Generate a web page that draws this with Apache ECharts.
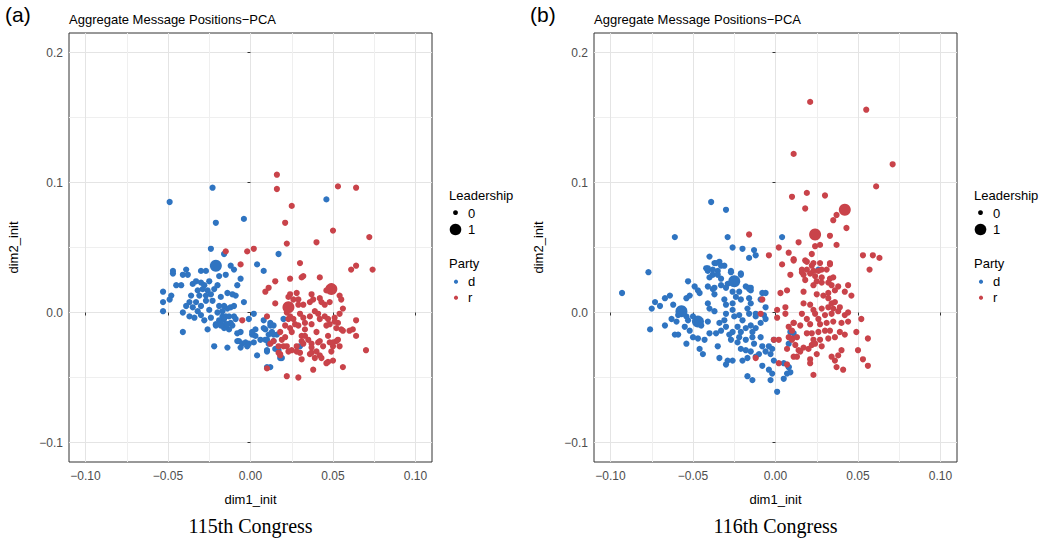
<!DOCTYPE html>
<html><head><meta charset="utf-8">
<script src="https://cdn.jsdelivr.net/npm/echarts@6/dist/echarts.min.js"></script>
<style>html,body{margin:0;padding:0;background:#fff}#c{width:1051px;height:538px}</style>
</head><body><div id="c"></div>
<script>
const xTicks = [-0.1, -0.05, 0, 0.05, 0.1];
const xMinor = [-0.075, -0.025, 0.025, 0.075];
const yTicks = [-0.1, 0, 0.1, 0.2];
const yMinor = [-0.05, 0.05, 0.15];
const panelLabels = ['(a)', '(b)'];
const panelTitle = 'Aggregate Message Positions\u2212PCA';
const captions = ['115th Congress', '116th Congress'];
const xName = 'dim1_init';
const yName = 'dim2_init';
const legendSize = ['0', '1'];
const legendParty = ['d', 'r'];

// Panel (a): 115th Congress
const a_d = [[-0.023,0.096],[-0.049,0.085],[-0.021,0.069],[-0.004,0.072],[-0.024,0.049],[-0.016,0.045],[-0.012,0.036],[-0.010,0.033],[-0.015,0.029],[-0.019,0.028],[-0.006,0.026],[-0.008,0.021],[0.004,0.037],[0.008,0.032],[0.017,0.045],[0.046,0.087],
[-0.047,0.032],[-0.047,0.030],[-0.039,0.033],[-0.041,0.029],[-0.038,0.029],[-0.030,0.032],[-0.027,0.032],[-0.045,0.021],[-0.042,0.021],[-0.035,0.022],[-0.053,0.016],[-0.048,0.013],[-0.049,0.010],[-0.053,0.008],[-0.053,0.001],
[-0.030,0.023],[-0.028,0.021],[-0.026,0.017],[-0.024,0.014],[-0.027,0.013],[-0.029,0.018],[-0.032,0.017],[-0.031,0.013],[-0.033,0.024],[-0.025,0.024],[-0.022,0.018],[-0.027,0.009],[-0.023,0.009],[-0.030,0.005],[-0.025,0.002],[-0.032,0.001],[-0.020,0.000],[-0.017,-0.003],[-0.024,-0.004],[-0.030,-0.002],
[-0.036,0.013],[-0.037,0.008],[-0.039,0.005],[-0.041,0.000],[-0.035,0.004],[-0.033,0.008],
[-0.020,0.021],[-0.014,0.015],[-0.011,0.014],[-0.009,0.013],[-0.018,0.012],[-0.019,0.005],[-0.016,0.005],[-0.014,0.003],[-0.012,0.004],[-0.010,0.005],[-0.004,0.008],[-0.017,0.001],[-0.015,-0.003],[-0.016,-0.005],[-0.019,-0.006],[-0.013,-0.003],[-0.011,-0.010],[-0.013,-0.013],[-0.016,-0.012],
[-0.037,-0.003],[-0.034,-0.004],[-0.028,-0.006],[-0.026,-0.013],[-0.021,-0.010],[-0.018,-0.008],[-0.015,-0.009],[-0.012,-0.008],[-0.010,-0.003],[-0.009,-0.005],[0.002,-0.001],[-0.001,-0.005],[-0.006,-0.015],[-0.007,-0.022],[-0.005,-0.024],[-0.003,-0.023],[-0.002,-0.026],[0.001,-0.017],[0.003,-0.018],[0.006,-0.021],[0.002,-0.023],[0.004,-0.033],[0.010,-0.029],[0.009,-0.013],[0.012,-0.010],[0.013,-0.015],[0.016,-0.017],[0.014,-0.022],[0.017,-0.029],[0.011,-0.024],[-0.022,-0.026],[-0.014,-0.027],[-0.041,-0.015],
[0.008,-0.006],[0.012,-0.008],[0.014,-0.010],[0.003,-0.013],[0.010,-0.021],[0.014,-0.017],[0.012,-0.042],[0.019,-0.035],[0.030,-0.026],[0.020,-0.005],
[-0.008,-0.016],[-0.008,-0.022],[-0.006,-0.027],[-0.001,-0.024],[0.001,-0.015],[0.008,-0.012],[0.009,-0.021],[0.011,-0.017],[0.010,-0.030],[0.015,-0.028],[0.018,-0.035],[0.010,-0.042],[-0.014,-0.009],[-0.018,-0.010],[-0.021,-0.009]];
const a_r = [[0.016,0.106],[0.016,0.095],[0.025,0.082],[0.021,0.069],[0.022,0.053],[-0.015,0.047],[-0.002,0.047],[0.002,0.049],[-0.006,0.037],[0.015,0.024],[0.011,0.019],[0.009,0.016],[0.024,0.026],[0.015,0.007],[-0.005,-0.006],[0.010,-0.003],[0.012,-0.024],[0.018,-0.032],
[0.053,0.097],[0.064,0.096],[0.050,0.063],[0.040,0.054],[0.072,0.058],[0.030,0.038],[0.061,0.033],[0.064,0.036],[0.074,0.033],[0.032,0.028],[0.031,0.027],[0.042,0.027],
[0.028,0.015],[0.024,0.014],[0.037,0.014],[0.050,0.019],[0.046,0.017],
[0.023,0.012],[0.026,0.010],[0.029,0.010],[0.032,0.006],[0.029,0.006],[0.036,0.008],[0.038,0.010],[0.042,0.011],[0.043,0.008],[0.045,0.006],[0.048,0.008],[0.054,0.013],[0.055,0.010],[0.056,0.003],[0.054,-0.001],
[0.022,0.000],[0.024,-0.003],[0.026,-0.005],[0.023,-0.005],[0.021,-0.010],[0.024,-0.012],[0.027,-0.009],[0.030,-0.001],[0.032,-0.004],[0.033,-0.008],[0.036,-0.003],[0.037,-0.009],[0.039,0.001],[0.041,-0.001],[0.042,-0.005],[0.045,-0.003],[0.047,-0.005],[0.046,-0.010],[0.048,-0.009],[0.051,-0.004],[0.053,-0.008],[0.052,-0.012],[0.055,-0.013],[0.060,-0.014],[0.062,-0.013],[0.064,-0.006],[0.064,-0.018],[0.070,-0.029],
[0.018,-0.015],[0.019,-0.021],[0.017,-0.026],[0.014,-0.022],[0.020,-0.026],[0.022,-0.026],[0.025,-0.029],[0.028,-0.026],[0.031,-0.022],[0.035,-0.021],[0.037,-0.024],[0.040,-0.015],[0.042,-0.022],[0.044,-0.026],[0.047,-0.018],[0.048,-0.023],[0.050,-0.026],[0.049,-0.030],[0.052,-0.022],[0.054,-0.026],[0.030,-0.031],[0.031,-0.036],[0.037,-0.031],[0.039,-0.035],[0.042,-0.033],[0.047,-0.038],[0.050,-0.037],[0.056,-0.042],[0.038,-0.044],[0.029,-0.050],[0.022,-0.049],[0.010,-0.043],[0.018,-0.033],
[0.036,-0.032],[0.043,-0.035],[0.046,-0.039],[0.041,-0.023],[0.031,-0.018],[0.033,-0.013],[0.029,-0.010],[0.025,-0.015],[0.021,-0.019],[0.017,-0.031],[0.023,-0.030],[0.028,-0.030],[0.032,-0.024],[0.037,-0.027],[0.040,-0.030],[0.050,-0.023],[0.053,-0.021],[0.056,-0.014],[0.051,-0.007],[0.033,-0.018]];
const a_dLead = [[-0.021,0.036]];
const a_rLead = [[0.023,0.004],[0.049,0.018]];

// Panel (b): 116th Congress
const b_d = [[-0.039,0.085],[-0.030,0.079],[-0.061,0.058],[-0.029,0.058],[-0.026,0.050],[-0.020,0.049],[-0.013,0.048],[-0.012,0.044],[-0.016,0.042],[-0.040,0.043],[-0.037,0.038],[-0.034,0.039],[-0.031,0.036],[-0.042,0.034],[-0.041,0.032],[-0.035,0.032],[-0.038,0.029],[-0.027,0.032],[-0.021,0.030],[-0.033,0.026],[-0.077,0.031],[-0.053,0.024],[-0.049,0.020],[-0.041,0.020],[-0.037,0.019],[-0.030,0.019],[-0.016,0.019],[-0.015,0.019],
[0.004,0.058],[0.026,0.033],
[-0.093,0.015],[-0.076,-0.013],
[-0.075,0.003],[-0.073,0.008],[-0.070,0.005],[-0.067,0.011],[-0.062,0.006],[-0.064,0.013],[-0.054,0.011],[-0.052,0.013],[-0.047,0.017],[-0.046,0.015],[-0.038,0.018],[-0.037,0.014],[-0.041,0.007],[-0.040,0.003],[-0.037,0.001],
[-0.063,-0.005],[-0.060,-0.007],[-0.059,-0.002],[-0.054,-0.003],[-0.053,-0.006],[-0.050,-0.003],[-0.055,-0.011],[-0.052,-0.014],[-0.045,-0.010],[-0.041,-0.007],[-0.034,-0.008],[-0.031,-0.006],[-0.030,-0.001],[-0.026,0.002],[-0.025,-0.003],[-0.022,-0.002],[-0.030,-0.011],[-0.026,-0.015],[-0.033,-0.014],[-0.036,-0.016],[-0.040,-0.016],[-0.047,-0.020],[-0.043,-0.021],[-0.050,-0.019],[-0.054,-0.024],[-0.061,-0.017],[-0.067,-0.010],[-0.059,-0.017],[-0.046,-0.028],[-0.044,-0.032],[-0.035,-0.026],[-0.034,-0.035],[-0.029,-0.037],[-0.030,-0.040],[-0.026,-0.037],[-0.020,-0.037],[-0.017,-0.035],[-0.012,-0.034],[-0.018,-0.029],[-0.021,-0.028],[-0.023,-0.023],[-0.027,-0.021],[-0.028,-0.017],[-0.022,-0.019],[-0.018,-0.021],[-0.014,-0.019],[-0.013,-0.024],[-0.009,-0.019],[-0.008,-0.026],[-0.006,-0.030],[-0.002,-0.028],[-0.003,-0.032],[-0.010,-0.032],[-0.015,-0.030],[-0.008,-0.041],[-0.004,-0.044],[-0.002,-0.047],[-0.003,-0.052],[0.005,-0.051],[0.007,-0.047],[0.008,-0.042],[0.001,-0.061],[-0.014,-0.052],[-0.017,-0.049],
[-0.023,-0.011],[-0.020,-0.006],[-0.016,-0.001],[-0.015,-0.010],[-0.012,-0.003],[-0.009,-0.008],[-0.012,-0.012],[-0.014,-0.015],[-0.018,-0.012],[-0.021,-0.015],[-0.017,0.003],[-0.015,0.007],[-0.012,-0.001],[-0.007,-0.002],[-0.006,0.004],[-0.009,0.010],[-0.016,0.011],[-0.015,0.017],[-0.021,0.010],[-0.024,0.012],[-0.018,0.020],[-0.016,0.018],[-0.008,0.015],[-0.006,0.015],[-0.026,0.007],[-0.030,0.006],[-0.031,0.010],[-0.026,0.016],[-0.022,0.016],[-0.033,0.021],[-0.029,0.022],[-0.035,0.029],[-0.038,0.033],[-0.040,0.027],[-0.041,0.034],[-0.036,0.038],[-0.033,0.036],[-0.027,0.031],[-0.021,0.029],
[-0.006,-0.005],[-0.004,-0.026],[-0.001,-0.021],[-0.001,-0.037],[0.008,-0.024],[0.009,-0.015],[0.011,-0.016],[0.005,-0.039],[0.008,-0.042],[0.009,-0.046]];
const b_r = [[-0.016,0.060],[-0.004,0.044],[0.002,0.050],
[0.021,0.162],[0.055,0.156],[0.011,0.122],[0.071,0.114],[0.061,0.097],[0.010,0.089],[0.019,0.092],[0.030,0.090],[0.018,0.080],[0.037,0.075],[0.035,0.071],[0.043,0.065],[0.033,0.059],[0.014,0.054],[0.024,0.051],[0.027,0.052],[0.037,0.052],[0.008,0.046],[0.022,0.045],[0.011,0.041],[0.004,0.037],[0.018,0.040],[0.027,0.038],[0.033,0.038],[0.053,0.044],[0.059,0.044],[0.063,0.042],[0.057,0.033],[0.009,0.029],[0.016,0.033],[0.019,0.033],[0.022,0.036],[0.023,0.032],[0.026,0.032],[0.021,0.030],[0.024,0.028],[0.028,0.027],[0.031,0.033],[0.033,0.026],[0.035,0.027],[0.018,0.025],[0.025,0.024],[0.032,0.023],[0.038,0.020],[0.044,0.021],[0.023,0.021],
[0.003,0.015],[0.007,0.017],[-0.008,0.010],[-0.009,-0.001],[0.001,0.002],[0.001,-0.004],[0.006,0.004],[0.006,-0.001],[0.008,-0.011],[0.011,-0.008],[0.010,-0.014],[0.010,-0.020],[0.012,-0.025],[0.007,-0.028],[0.014,-0.029],[-0.001,-0.021],[0.002,-0.021],[-0.012,-0.035],[0.002,-0.039],[0.007,-0.040],
[0.011,0.040],[0.019,0.039],[0.023,0.038],[0.033,0.037],[0.028,0.033],[0.016,0.031],[0.017,0.029],
[0.028,0.023],[0.034,0.021],[0.042,0.016],[0.046,0.013],[0.036,0.017],[0.032,0.015],[0.029,0.013],[0.025,0.014],[0.017,0.016],
[0.017,0.007],[0.021,0.006],[0.032,0.011],[0.034,0.007],[0.036,0.008],[0.039,0.004],[0.035,0.003],[0.032,0.004],[0.028,0.003],[0.024,-0.001],[0.023,0.002],[0.016,-0.001],[0.011,-0.008],[0.015,-0.010],[0.019,-0.005],[0.026,-0.005],[0.030,-0.002],[0.034,-0.001],[0.038,0.001],[0.042,-0.002],[0.044,0.000],[0.040,-0.008],[0.044,-0.007],[0.035,-0.007],[0.031,-0.008],[0.027,-0.009],[0.021,-0.009],[0.019,-0.016],[0.022,-0.016],[0.026,-0.015],[0.030,-0.014],[0.033,-0.014],[0.036,-0.019],[0.039,-0.015],[0.042,-0.017],[0.032,-0.020],[0.027,-0.021],[0.023,-0.021],[0.022,-0.025],[0.020,-0.028],[0.017,-0.027],[0.015,-0.030],[0.013,-0.034],[0.011,-0.034],[0.008,-0.019],[0.010,-0.021],[0.013,-0.019],[0.024,-0.024],[0.028,-0.026],[0.025,-0.032],[0.021,-0.036],[0.021,-0.039],[0.023,-0.048],[0.034,-0.034],[0.036,-0.037],[0.038,-0.033],[0.040,-0.029],[0.037,-0.042],[0.041,-0.044],[0.049,-0.015],[0.052,-0.005],[0.056,-0.020],[0.050,-0.029],[0.053,-0.036],[0.056,-0.041]];
const b_dLead = [[-0.025,0.024],[-0.057,0.001],[-0.047,-0.007]];
const b_rLead = [[0.042,0.079],[0.024,0.060]];

const BLUE = '#2F74C1', RED = '#C9434A';
const dotSize = 6.2, leadSize = 12;
const panelsLeft = [69, 594];
const gridTop = 33, gridW = 363, gridH = 429;

const fmtX = v => (v < 0 ? '\u2212' : '') + Math.abs(v).toFixed(2);
const fmtY = v => (v < 0 ? '\u2212' : '') + Math.abs(v).toFixed(1);
const TXT = '#4d4d4d', FONT = 'Liberation Sans, Arial, sans-serif';

const grids = [], xAxes = [], yAxes = [], series = [], graphics = [];
const panels = [[a_d, a_r, a_dLead, a_rLead], [b_d, b_r, b_dLead, b_rLead]];

panels.forEach((p, i) => {
  const L = panelsLeft[i];
  grids.push({ left: L, top: gridTop, width: gridW, height: gridH, show: true, borderColor: '#333', borderWidth: 1, backgroundColor: '#fff', containLabel: false });
  xAxes.push({ gridIndex: i, type: 'value', min: -0.11, max: 0.11, position: 'bottom',
    name: xName, nameLocation: 'middle', nameGap: 31, nameTextStyle: { color: '#000', fontSize: 13, fontFamily: FONT },
    axisLine: { show: false },
    axisTick: { show: true, length: 3, customValues: xTicks, lineStyle: { color: '#333' } },
    axisLabel: { customValues: xTicks, formatter: fmtX, color: TXT, fontSize: 12, fontFamily: FONT, margin: 8 },
    splitLine: { show: true, lineStyle: { color: '#e4e4e4', width: 1 } } });
  xAxes.push({ gridIndex: i, type: 'value', min: -0.11, max: 0.11, position: 'bottom',
    axisLine: { show: false }, axisLabel: { show: false },
    axisTick: { show: false, customValues: xMinor },
    splitLine: { show: true, lineStyle: { color: '#efefef', width: 1 } } });
  yAxes.push({ gridIndex: i, type: 'value', min: -0.115, max: 0.215, position: 'left',
    name: yName, nameLocation: 'middle', nameGap: 49, nameRotate: 90, nameTextStyle: { color: '#000', fontSize: 13, fontFamily: FONT },
    axisLine: { show: false },
    axisTick: { show: true, length: 3, customValues: yTicks, lineStyle: { color: '#333' } },
    axisLabel: { customValues: yTicks, formatter: fmtY, color: TXT, fontSize: 12, fontFamily: FONT, margin: 6 },
    splitLine: { show: true, lineStyle: { color: '#e4e4e4', width: 1 } } });
  yAxes.push({ gridIndex: i, type: 'value', min: -0.115, max: 0.215, position: 'left',
    axisLine: { show: false }, axisLabel: { show: false },
    axisTick: { show: false, customValues: yMinor },
    splitLine: { show: true, lineStyle: { color: '#efefef', width: 1 } } });
  const cols = [BLUE, RED, BLUE, RED];
  const sizes = [dotSize, dotSize, leadSize, leadSize];
  p.forEach((data, k) => {
    series.push({ type: 'scatter', xAxisIndex: i * 2, yAxisIndex: i * 2, data: data,
      symbol: 'circle', symbolSize: sizes[k], itemStyle: { color: cols[k], opacity: 1 },
      silent: true, animation: false, z: 2 + k });
  });
  const dx = i * 525;
  graphics.push({ type: 'text', left: 5 + dx, top: 4, style: { text: panelLabels[i], font: '21px ' + FONT, fill: '#000' } });
  graphics.push({ type: 'text', left: L, top: 13, style: { text: panelTitle, font: '13px ' + FONT, fill: '#000' } });
  graphics.push({ type: 'text', x: L + gridW / 2, y: 526, style: { text: captions[i], font: '20px Liberation Serif, Times New Roman, serif', fill: '#000', align: 'center', verticalAlign: 'middle' } });
  const lx = 449 + dx;
  graphics.push({ type: 'text', x: lx, y: 195, style: { text: 'Leadership', font: '13px ' + FONT, fill: '#000', verticalAlign: 'middle' } });
  graphics.push({ type: 'circle', shape: { cx: lx + 6.5, cy: 212.7, r: 2.4 }, style: { fill: '#000' } });
  graphics.push({ type: 'text', x: lx + 19, y: 213, style: { text: legendSize[0], font: '13px ' + FONT, fill: '#000', verticalAlign: 'middle' } });
  graphics.push({ type: 'circle', shape: { cx: lx + 6.5, cy: 229.5, r: 5.8 }, style: { fill: '#000' } });
  graphics.push({ type: 'text', x: lx + 19, y: 229.5, style: { text: legendSize[1], font: '13px ' + FONT, fill: '#000', verticalAlign: 'middle' } });
  graphics.push({ type: 'text', x: lx, y: 263, style: { text: 'Party', font: '13px ' + FONT, fill: '#000', verticalAlign: 'middle' } });
  graphics.push({ type: 'circle', shape: { cx: lx + 7, cy: 281.7, r: 2.1 }, style: { fill: BLUE } });
  graphics.push({ type: 'text', x: lx + 19, y: 281.5, style: { text: legendParty[0], font: '13px ' + FONT, fill: '#000', verticalAlign: 'middle' } });
  graphics.push({ type: 'circle', shape: { cx: lx + 7, cy: 297.7, r: 2.1 }, style: { fill: RED } });
  graphics.push({ type: 'text', x: lx + 19, y: 297.5, style: { text: legendParty[1], font: '13px ' + FONT, fill: '#000', verticalAlign: 'middle' } });
});

const chart = echarts.init(document.getElementById('c'), null, { renderer: 'svg', width: 1051, height: 538 });
chart.setOption({ animation: false, backgroundColor: '#fff', grid: grids, xAxis: xAxes, yAxis: yAxes, series: series, graphic: graphics });
</script></body></html>
